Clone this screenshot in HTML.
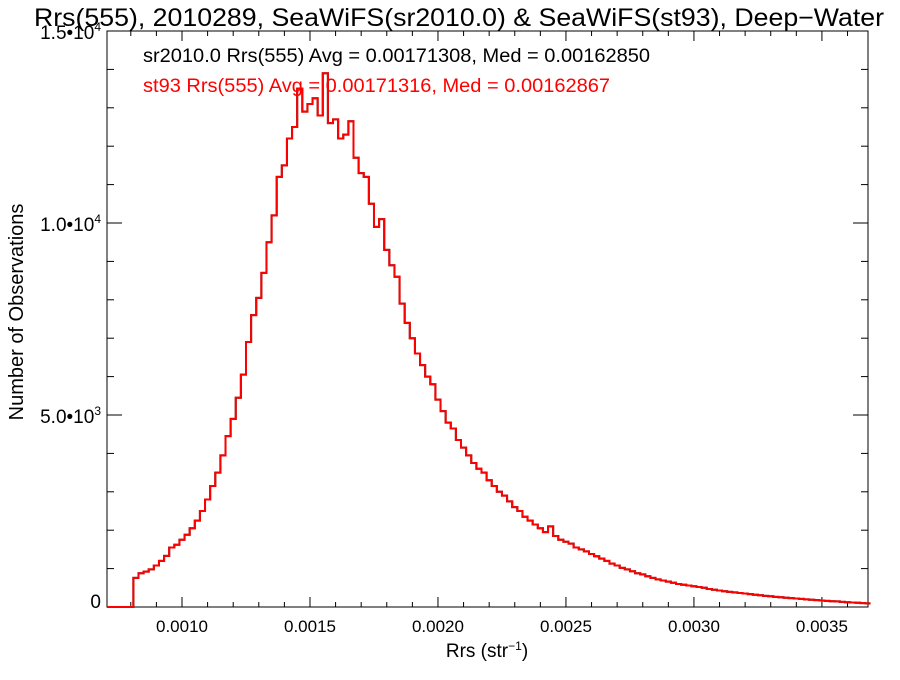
<!DOCTYPE html>
<html><head><meta charset="utf-8"><style>
body{margin:0;background:#fff;}
svg text{font-family:"Liberation Sans",Arial,sans-serif;}
</style></head><body>
<svg id="chart" width="900" height="675" xmlns="http://www.w3.org/2000/svg">
<rect width="900" height="675" fill="#fff"/>
<text x="459" y="26" font-size="25" text-anchor="middle" textLength="850" lengthAdjust="spacingAndGlyphs">Rrs(555), 2010289, SeaWiFS(sr2010.0) &amp; SeaWiFS(st93), Deep−Water</text>
<g id="axes"></g>
<g id="series"></g>
<text x="143" y="62" font-size="19" fill="#000" textLength="507" lengthAdjust="spacingAndGlyphs">sr2010.0 Rrs(555) Avg = 0.00171308, Med = 0.00162850</text>
<text x="143" y="92" font-size="19" fill="#ff0000" textLength="467" lengthAdjust="spacingAndGlyphs">st93 Rrs(555) Avg = 0.00171316, Med = 0.00162867</text>
<text x="487" y="657" font-size="19" text-anchor="middle">Rrs (str<tspan font-size="12" dy="-7">−1</tspan><tspan dy="7">)</tspan></text>
<text transform="translate(23,312) rotate(-90)" font-size="20" text-anchor="middle">Number of Observations</text>
</svg>
<script>
const binStart = 0.00081;
const binWidth = 0.00002;
const counts = [760,880,920,980,1080,1200,1330,1550,1620,1750,1880,2050,2250,2500,2800,3150,3500,3950,4450,4900,5450,6050,6900,7600,8050,8700,9500,10200,11200,11500,12200,12500,13500,12900,13100,13250,12800,13900,12600,12700,12200,12300,12650,11700,11300,11200,10500,9900,10100,9300,8900,8600,7900,7400,7000,6600,6300,6000,5800,5400,5100,4800,4650,4350,4150,3950,3750,3600,3500,3300,3150,3000,2900,2750,2600,2500,2350,2250,2150,2050,1950,2100,1850,1750,1700,1650,1550,1500,1450,1380,1320,1260,1200,1130,1080,1020,980,930,880,850,800,760,720,690,660,630,600,580,560,540,520,500,470,450,430,410,395,380,365,350,335,320,305,290,280,265,255,240,230,220,210,200,190,180,170,160,150,145,135,125,118,110,100,95];
const xTicks = [0.0010,0.0015,0.0020,0.0025,0.0030,0.0035];
const xTickLabels = ["0.0010","0.0015","0.0020","0.0025","0.0030","0.0035"];
const yTicks = [0,5000,10000,15000];
const yTickLabels = ["0","5.0•10^3","1.0•10^4","1.5•10^4"];
const X0=107,X1=868,Y0=607,Y1=31;
const xMin=0.000707,xMax=0.00368,yMin=0,yMax=15000;
const sx=v=>X0+(v-xMin)/(xMax-xMin)*(X1-X0);
const sy=v=>Y0-(v-yMin)/(yMax-yMin)*(Y0-Y1);
const NS="http://www.w3.org/2000/svg";
const axes=document.getElementById('axes');
function mk(t,a,p){const e=document.createElementNS(NS,t);for(const k in a)e.setAttribute(k,a[k]);p.appendChild(e);return e;}
const frame=mk('rect',{x:X0,y:Y1,width:X1-X0,height:Y0-Y1,fill:'none',stroke:'#000','stroke-width':1},axes);


for(let v=0.0008;v<xMax;v+=0.0001){const x=sx(v);const maj=Math.abs(v/0.0005-Math.round(v/0.0005))<1e-6;const L=maj?10:5;
const t1=mk('line',{x1:x,x2:x,y1:Y0,y2:Y0-L,stroke:'#000'},axes);


const t2=mk('line',{x1:x,x2:x,y1:Y1,y2:Y1+L,stroke:'#000'},axes);

}
for(let v=0;v<=yMax;v+=1000){const y=sy(v);const L=(v%5000===0)?15:7;
const t1=mk('line',{x1:X0,x2:X0+L,y1:y,y2:y,stroke:'#000'},axes);


const t2=mk('line',{x1:X1,x2:X1-L,y1:y,y2:y,stroke:'#000'},axes);

}
xTicks.forEach((v,i)=>{const t=mk('text',{x:sx(v),y:Y0+25,'font-size':17,'text-anchor':'middle'},axes);t.textContent=xTickLabels[i];

});
yTicks.forEach((v,i)=>{const t=mk('text',{x:X0-6,y:sy(v)+(v===0?1:8),'font-size':19,'text-anchor':'end'},axes);
const parts=yTickLabels[i].split('^');t.textContent=parts[0];
if(parts[1]){const s=mk('tspan',{'font-size':12,dy:-8},t);s.textContent=parts[1];}

});
function stepPath(){let d='M'+X0+','+sy(0)+' L'+sx(binStart)+','+sy(0);
counts.forEach((c,i)=>{const a=sx(binStart+i*binWidth),b=sx(binStart+(i+1)*binWidth);d+=' L'+a+','+sy(c)+' L'+b+','+sy(c);});
return d;}
const series=document.getElementById('series');
const p1=mk('path',{d:stepPath(),fill:'none',stroke:'#000','stroke-width':2},series);


const p2=mk('path',{d:stepPath(),fill:'none',stroke:'#ff0000','stroke-width':2},series);


</script>
</body></html>
